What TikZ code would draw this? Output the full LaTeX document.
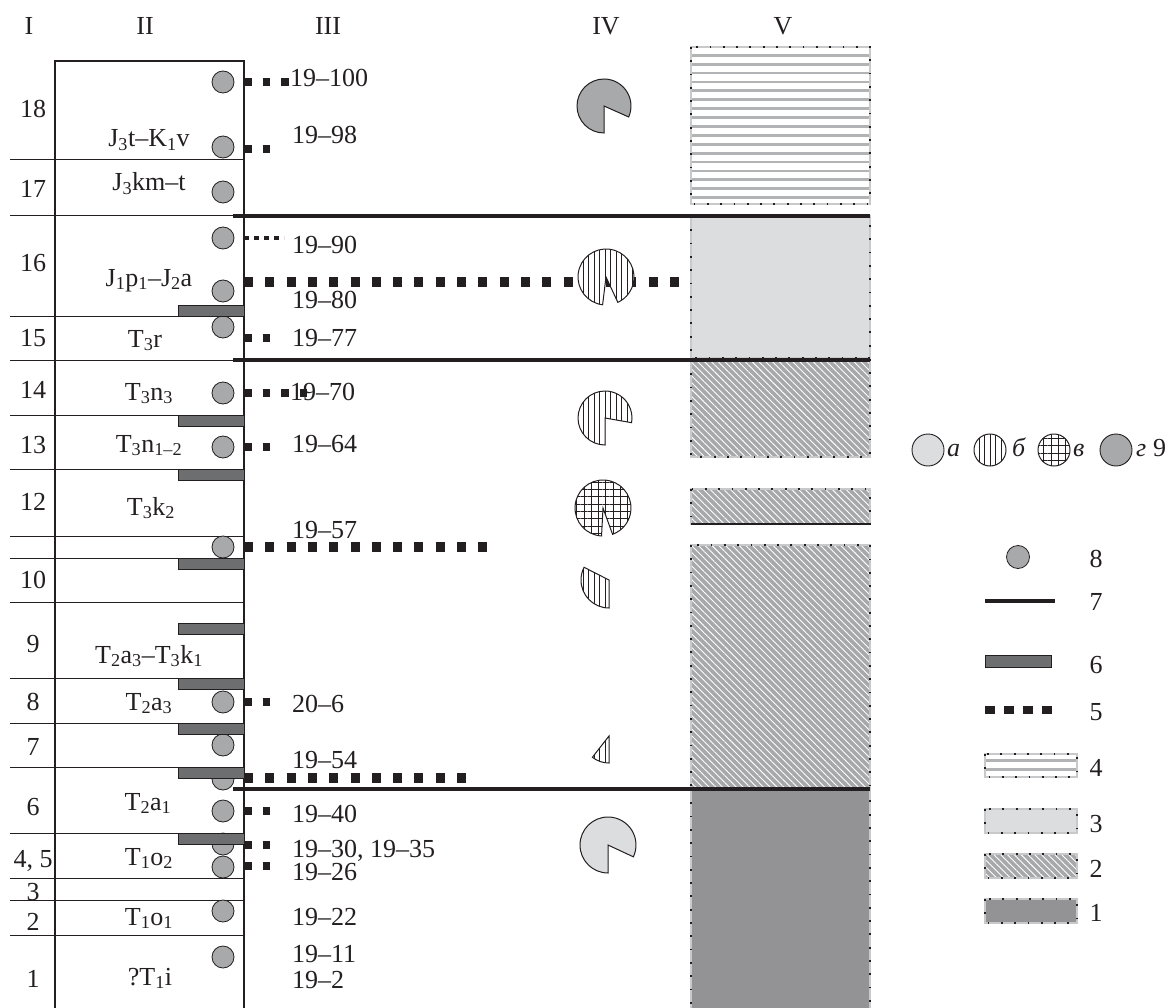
\documentclass[tikz,border=0pt]{standalone}
\usepackage{fontspec}
\setmainfont{Liberation Serif}
\usetikzlibrary{patterns.meta}
\definecolor{ink}{HTML}{231F20}
\definecolor{dotgray}{HTML}{A8A9AB}
\definecolor{lightg}{HTML}{DCDDDF}
\definecolor{darkbar}{HTML}{6D6E70}
\definecolor{stripe}{HTML}{B1B3B5}
\definecolor{hatchg}{HTML}{A7A8AA}
\definecolor{darkone}{HTML}{939396}
\definecolor{framegray}{HTML}{C8C9CB}
\newcommand\myvframe[2]{%
  \draw[framegray, line width=1.4pt] (#1) rectangle (#2);
  \draw[ink, line width=2pt, dash pattern=on 1.8pt off 11.5pt] (#1) rectangle (#2);}
\tikzset{
  txt/.style={font=\fontsize{26}{30}\selectfont, inner sep=0pt, text=ink},
  lab/.style={txt, anchor=base},
  labw/.style={txt, anchor=base west},
  smp/.style={draw=ink, line width=0.8pt, fill=dotgray},
  barbox/.style={draw=ink, line width=0.7pt, fill=darkbar},
  sevenline/.style={draw=ink, line width=4.2pt},
  sqline/.style={draw=ink, line width=7.5pt, dash pattern=on 7.5pt off 11pt},
  bigsq/.style={draw=ink, line width=10pt, dash pattern=on 9pt off 12.3pt},
  tinysq/.style={draw=ink, line width=4pt, dash pattern=on 5pt off 5pt},
  rowline/.style={draw=ink, line width=1pt},
  colline/.style={draw=ink, line width=1.4pt},
  vhatch/.style={preaction={fill=white}, pattern={Lines[angle=90,distance=5.5pt,line width=1pt]}, pattern color=ink, draw=ink, line width=1pt},
  gridhatch/.style={preaction={fill=white}, pattern={Hatch[angle=0,distance=7.3pt,line width=1pt]}, pattern color=ink, draw=ink, line width=1pt},
  diagfill/.style={preaction={fill=hatchg}, pattern={Lines[angle=-45,distance=4.8pt,line width=0.9pt]}, pattern color=white},
}
\begin{document}
\begin{tikzpicture}[x=1pt,y=-1pt]
\useasboundingbox (0,0) rectangle (1169,1008);

% ---------- column V ----------
\foreach \k in {0,...,16} \draw[stripe, line width=2.8pt] (692,{55.3+8.9*\k}) -- (869,{55.3+8.9*\k});
\myvframe{691,47}{870,204}
\fill[lightg] (691,216) rectangle (870,358);
\myvframe{691,216}{870,358}
\path[diagfill] (691,360) rectangle (870,457);
\myvframe{691,360}{870,457}
\path[diagfill] (691,489) rectangle (870,524);
\myvframe{691,489}{870,524}
\draw[ink, line width=1.5pt] (691,524) -- (870,524);
\path[diagfill] (691,545) rectangle (870,789);
\myvframe{691,545}{870,789}
\fill[darkone] (691,789) rectangle (870,1012);
\myvframe{691,789}{870,1012}

% ---------- columns I and II ----------
\draw[colline] (55,1012) -- (55,61) -- (244,61) -- (244,1012);
\foreach \yy in {160,216,316,360,415,469,536,558,602,678,723,767,833,878,900,935}
  \draw[rowline] (10,\yy) -- (244,\yy);

% samples (8)
\foreach \yy in {82,147,192,238,291,327,393,447,547,702,745,779,811,844,867,911,957}
  \path[smp] (223,\yy) circle[radius=11];
% bars (6)
\foreach \yy in {305,415,469,558,623,678,723,767,833}
  \path[barbox] (178,\yy) rectangle (244,\yy+11);

% dotted lines (5)
\draw[sqline] (244,82) -- (289,82);
\draw[sqline] (244,149) -- (270,149);
\draw[tinysq] (244,238) -- (284,238);
\draw[bigsq] (244,282) -- (683,282);
\draw[sqline] (244,338) -- (270,338);
\draw[sqline] (244,393) -- (307,393);
\draw[sqline] (244,447) -- (270,447);
\draw[bigsq] (244,547) -- (488,547);
\draw[sqline] (244,702) -- (270,702);
\draw[bigsq] (244,778) -- (467,778);
\draw[sqline] (244,811) -- (270,811);
\draw[sqline] (244,845) -- (270,845);
\draw[sqline] (244,866) -- (270,866);

% ---------- column IV pies ----------
\path[fill=dotgray, draw=ink, line width=1pt] (604,106) -- ++(-270:27) arc[start angle=-270, end angle=24, radius=27] -- cycle;
\path[vhatch] (606,277) -- ++(-263:28) arc[start angle=-263, end angle=65, radius=28] -- cycle;
\path[vhatch] (605,418) -- ++(-270:27) arc[start angle=-270, end angle=10, radius=27] -- cycle;
\path[gridhatch] (603,508) -- ++(-267:28) arc[start angle=-267, end angle=70, radius=28] -- cycle;
\path[vhatch] (609,580) -- ++(-270:28) arc[start angle=-270, end angle=-153, radius=28] -- cycle;
\path[vhatch] (609,736) -- ++(-270:27) arc[start angle=-270, end angle=-232, radius=27] -- cycle;
\path[fill=lightg, draw=ink, line width=1pt] (608,845) -- ++(-270:28) arc[start angle=-270, end angle=25, radius=28] -- cycle;

% thick lines (7)
\draw[sevenline] (233,216) -- (870,216);
\draw[sevenline] (233,360) -- (870,360);
\draw[sevenline] (233,789) -- (870,789);

% ---------- texts ----------
\node[lab] (hI) at (29,35) {I};
\node[lab] (hII) at (145,35) {II};
\node[lab] (hIII) at (328,35) {III};
\node[lab] (hIV) at (606,35) {IV};
\node[lab] (hV) at (783,35) {V};

\node[lab] (n18) at (33,118) {18};
\node[lab] (n17) at (33,198) {17};
\node[lab] (n16) at (33,272) {16};
\node[lab] (n15) at (33,346) {15};
\node[lab] (n14) at (33,398) {14};
\node[lab] (n13) at (33,453) {13};
\node[lab] (n12) at (33,510) {12};
\node[lab] (n10) at (33,588) {10};
\node[lab] (n9) at (33,652) {9};
\node[lab] (n8) at (33,710) {8};
\node[lab] (n7) at (33,755) {7};
\node[lab] (n6) at (33,815) {6};
\node[lab] (n45) at (33,867) {4, 5};
\node[lab] (n3) at (33,900) {3};
\node[lab] (n2) at (33,930) {2};
\node[lab] (n1) at (33,987) {1};

\node[lab] (f18) at (149,147) {J\textsubscript{3}t–K\textsubscript{1}v};
\node[lab] (f17) at (149,191) {J\textsubscript{3}km–t};
\node[lab] (f16) at (149,286) {J\textsubscript{1}p\textsubscript{1}–J\textsubscript{2}a};
\node[lab] (f15) at (145,347) {T\textsubscript{3}r};
\node[lab] (f14) at (149,400) {T\textsubscript{3}n\textsubscript{3}};
\node[lab] (f13) at (149,452) {T\textsubscript{3}n\textsubscript{1–2}};
\node[lab] (f12) at (151,515) {T\textsubscript{3}k\textsubscript{2}};
\node[lab] (f9) at (149,663) {T\textsubscript{2}a\textsubscript{3}–T\textsubscript{3}k\textsubscript{1}};
\node[lab] (f8) at (149,710) {T\textsubscript{2}a\textsubscript{3}};
\node[lab] (f6) at (148,810) {T\textsubscript{2}a\textsubscript{1}};
\node[lab] (f45) at (149,865) {T\textsubscript{1}o\textsubscript{2}};
\node[lab] (f2) at (149,925) {T\textsubscript{1}o\textsubscript{1}};
\node[lab] (f1) at (150,985) {?T\textsubscript{1}i};

\node[labw] (s100) at (290,87) {19–100};
\node[labw] (s98) at (292,144) {19–98};
\node[labw] (s90) at (292,254) {19–90};
\node[labw] (s80) at (292,308) {19–80};
\node[labw] (s77) at (292,346) {19–77};
\node[labw] (s70) at (290,400) {19–70};
\node[labw] (s64) at (292,452) {19–64};
\node[labw] (s57) at (292,538) {19–57};
\node[labw] (s206) at (292,712) {20–6};
\node[labw] (s54) at (292,768) {19–54};
\node[labw] (s40) at (292,822) {19–40};
\node[labw] (s30) at (292,857) {19–30, 19–35};
\node[labw] (s26) at (292,880) {19–26};
\node[labw] (s22) at (292,925) {19–22};
\node[labw] (s11) at (292,962) {19–11};
\node[labw] (s2) at (292,988) {19–2};

% ---------- legend ----------
\path[fill=lightg, draw=ink, line width=0.9pt] (928,450) circle[radius=16];
\node[labw] (la) at (947,456) {\textit{а}};
\path[vhatch] (990,450) circle[radius=16];
\node[labw] (lb) at (1012,456) {\textit{б}};
\path[gridhatch] (1054,450) circle[radius=16];
\node[labw] (lv) at (1073,456) {\textit{в}};
\path[fill=dotgray, draw=ink, line width=0.9pt] (1116,450) circle[radius=16];
\node[labw] (lg) at (1136,456) {\textit{г}};
\node[labw] (l9) at (1153,456) {9};

\path[smp] (1018,557) circle[radius=11.5];
\node[lab] (l8) at (1096,567) {8};
\draw[sevenline] (985,601) -- (1055,601);
\node[lab] (l7) at (1096,610) {7};
\path[barbox] (985,655) rectangle (1051,667);
\node[lab] (l6) at (1096,673) {6};
\draw[ink, line width=8.5pt, dash pattern=on 10pt off 9pt] (985,710) -- (1052,710);
\node[lab] (l5) at (1096,720) {5};
\draw[stripe, line width=2.8pt] (986,760.7) -- (1076,760.7);
\draw[stripe, line width=2.8pt] (986,769.3) -- (1076,769.3);
\myvframe{985,754}{1077,777}
\node[lab] (l4) at (1096,776) {4};
\fill[lightg] (985,809) rectangle (1077,833);
\myvframe{985,809}{1077,833}
\node[lab] (l3) at (1096,832) {3};
\path[diagfill] (985,854) rectangle (1077,878);
\myvframe{985,854}{1077,878}
\node[lab] (l2) at (1096,877) {2};
\fill[darkone] (985,899) rectangle (1077,923);
\myvframe{985,899}{1077,923}
\node[lab] (l1) at (1096,921) {1};
\end{tikzpicture}
\end{document}
